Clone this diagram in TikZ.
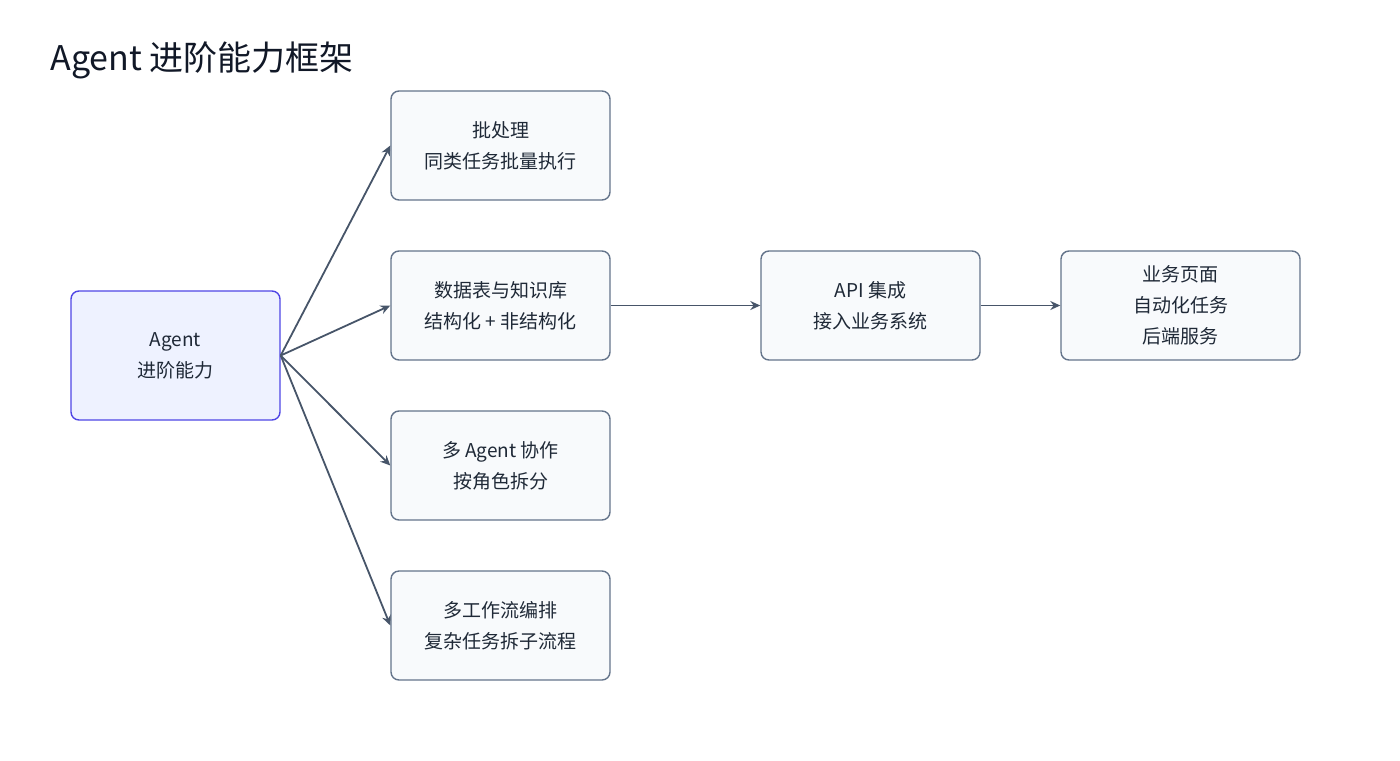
\documentclass[tikz,border=0pt]{standalone}
\usepackage{fontspec}
\setmainfont{Noto Sans CJK SC}
\usetikzlibrary{arrows.meta}
\definecolor{ttl}{HTML}{111827}
\definecolor{afill}{HTML}{EEF2FF}
\definecolor{aline}{HTML}{4F46E5}
\definecolor{bfill}{HTML}{F8FAFC}
\definecolor{bline}{HTML}{64748B}
\definecolor{arr}{HTML}{475569}
\definecolor{txt}{HTML}{1F2937}
\begin{document}
\begin{tikzpicture}[x=0.5pt,y=-0.5pt,
  box/.style={draw=bline,fill=bfill,line width=0.7pt,rounded corners=4pt,minimum width=109.5pt,minimum height=54.5pt,align=center,font=\fontsize{9.5}{15.5}\selectfont,text=txt,inner sep=0pt},
  abox/.style={box,draw=aline,fill=afill,minimum width=104.5pt,minimum height=64.5pt},
  con/.style={draw=arr,line width=0.9pt,-{Stealth[length=5pt,width=4.5pt]}}]
\useasboundingbox (0,0) rectangle (1400,760);
\node[anchor=west,font=\fontsize{17}{20}\selectfont,text=ttl,inner sep=0pt] (t) at (50,60) {Agent 进阶能力框架};
\node[abox] (a) at (175.5,355.5) {Agent\\进阶能力};
\node[box] (b1) at (500.5,145.5) {批处理\\同类任务批量执行};
\node[box] (b2) at (500.5,305.5) {数据表与知识库\\结构化 + 非结构化};
\node[box] (b3) at (500.5,465.5) {多 Agent 协作\\按角色拆分};
\node[box] (b4) at (500.5,625.5) {多工作流编排\\复杂任务拆子流程};
\node[box] (c) at (870.5,305.5) {API 集成\\接入业务系统};
\node[box,minimum width=119.5pt] (d) at (1180.5,305.5) {业务页面\\自动化任务\\后端服务};
\foreach \b in {b1,b2,b3,b4} \draw[con] (a.east) -- (\b.west);
\draw[con] (b2.east) -- (c.west);
\draw[con] (c.east) -- (d.west);
\end{tikzpicture}
\end{document}
